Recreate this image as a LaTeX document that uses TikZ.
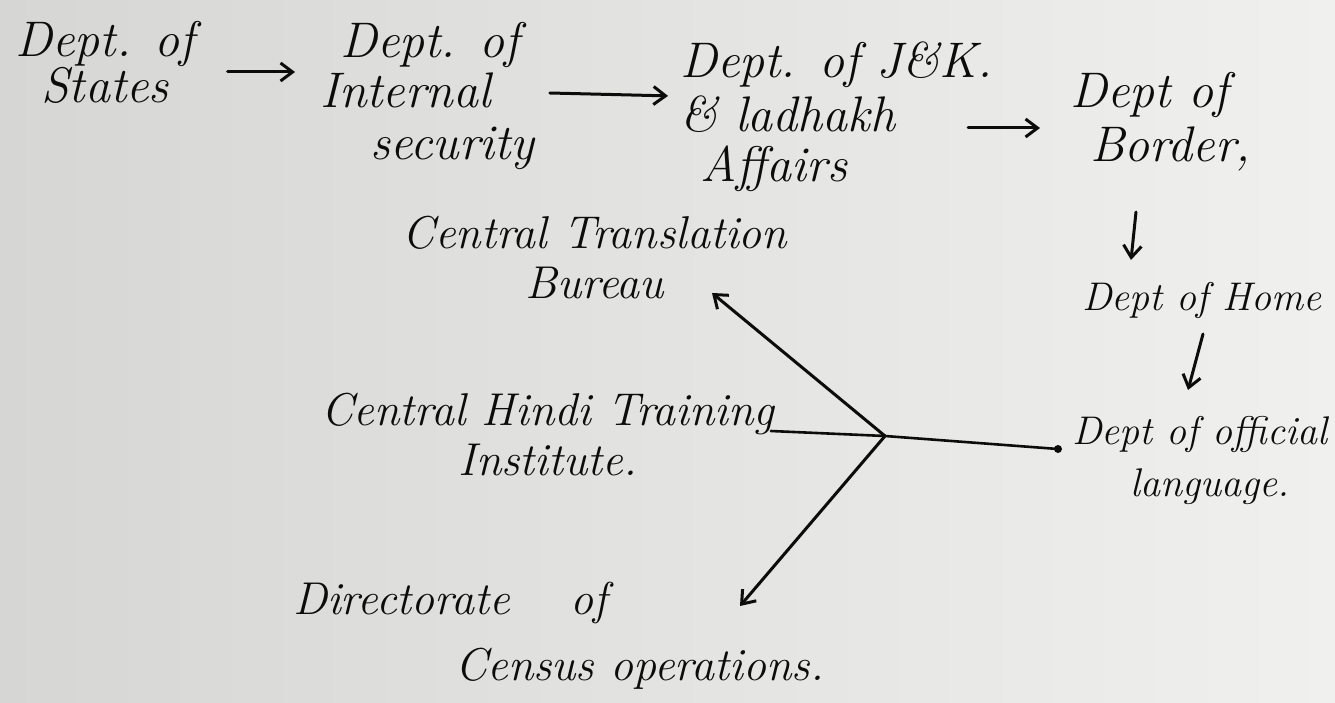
\documentclass[tikz,border=0pt]{standalone}
\usetikzlibrary{arrows.meta}
\definecolor{paperL}{RGB}{214,214,212}
\definecolor{paperR}{RGB}{240,240,238}
\definecolor{ink}{RGB}{12,12,12}
\begin{document}
\begin{tikzpicture}[x=1pt,y=-1pt,
  hw/.style={font=\fontsize{50}{46}\selectfont\itshape, text=ink, inner sep=0pt},
  hwsmall/.style={font=\fontsize{46}{50}\selectfont\itshape, text=ink, inner sep=0pt},
  hwedge/.style={font=\fontsize{40}{46}\selectfont\itshape, text=ink, inner sep=0pt},
  arr/.style={draw=ink, line width=3pt, line cap=round, -{Straight Barb[length=12pt,width=18pt,line width=3pt]}},
  plain/.style={draw=ink, line width=2.6pt, line cap=round}]
\useasboundingbox (0,0) rectangle (1335,703);
\shade[left color=paperL, right color=paperR] (0,0) rectangle (1335,703);

% top row
\node[hw, align=center] (states) at (105,62) {Dept. of\\States};
\node[hw, align=left, anchor=north west] (internal) at (320,22)
  {\hspace*{20pt}Dept. of\\[4pt]Internal\\[6pt]\hspace*{50pt}security};
\node[hw, align=left, anchor=north west] (jk) at (680,42)
  {Dept. of J\&K.\\[8pt]\& ladhakh\\[4pt]\hspace*{20pt}Affairs};
\node[hw, align=left, anchor=north west] (border) at (1070,72)
  {Dept of\\[8pt]\hspace*{20pt}Border,};
\node[hwedge, anchor=west] (home) at (1082,300) {Dept of Home};
\node[hwedge, align=left, anchor=north west] (official) at (1072,416)
  {Dept of official\\[6pt]\hspace*{58pt}language.};

% middle / bottom
\node[hwsmall, align=center] (ctb) at (595,258) {Central Translation\\Bureau};
\node[hwsmall, align=center] (chti) at (548,435) {Central Hindi Training\\Institute.};
\node[hwsmall, align=left, anchor=north west] (dir) at (293,582)
  {Directorate\hspace*{60pt}of\\[16pt]\hspace*{162pt}Census operations.};

% connectors of top row
\draw[arr] ([xshift=33pt,yshift=-10pt]states.east) -- ([xshift=-25pt,yshift=-10pt]states.east -| internal.west);
\draw[arr] ([xshift=15pt]internal.east |- 0,93) -- ([xshift=-12pt]internal.east -| jk.west |- 0,93);
\coordinate (a3s) at (968,128);
\coordinate (a3e) at (1040,128);
\draw[arr] (a3s) -- (a3e);
\coordinate (b1) at (1136,212);
\coordinate (b2) at (1131,260);
\draw[arr] (b1) -- (b2);
\coordinate (h1) at (1203,334);
\coordinate (h2) at (1188,390);
\draw[arr] (h1) -- (h2);

% hub
\coordinate (hub) at (885,436);
\coordinate (ctbtip) at (712,293);
\coordinate (dirtip) at (740,606);
\coordinate (offdot) at (1058,449);
\draw[arr] (hub) -- (ctbtip);
\draw[arr] (hub) -- (dirtip);
\draw[plain] (hub) -- ([xshift=-4pt]chti.north east |- 0,431);
\draw[plain] (hub) -- (offdot);
\fill[ink] (offdot) circle (4pt);
\end{tikzpicture}
\end{document}
